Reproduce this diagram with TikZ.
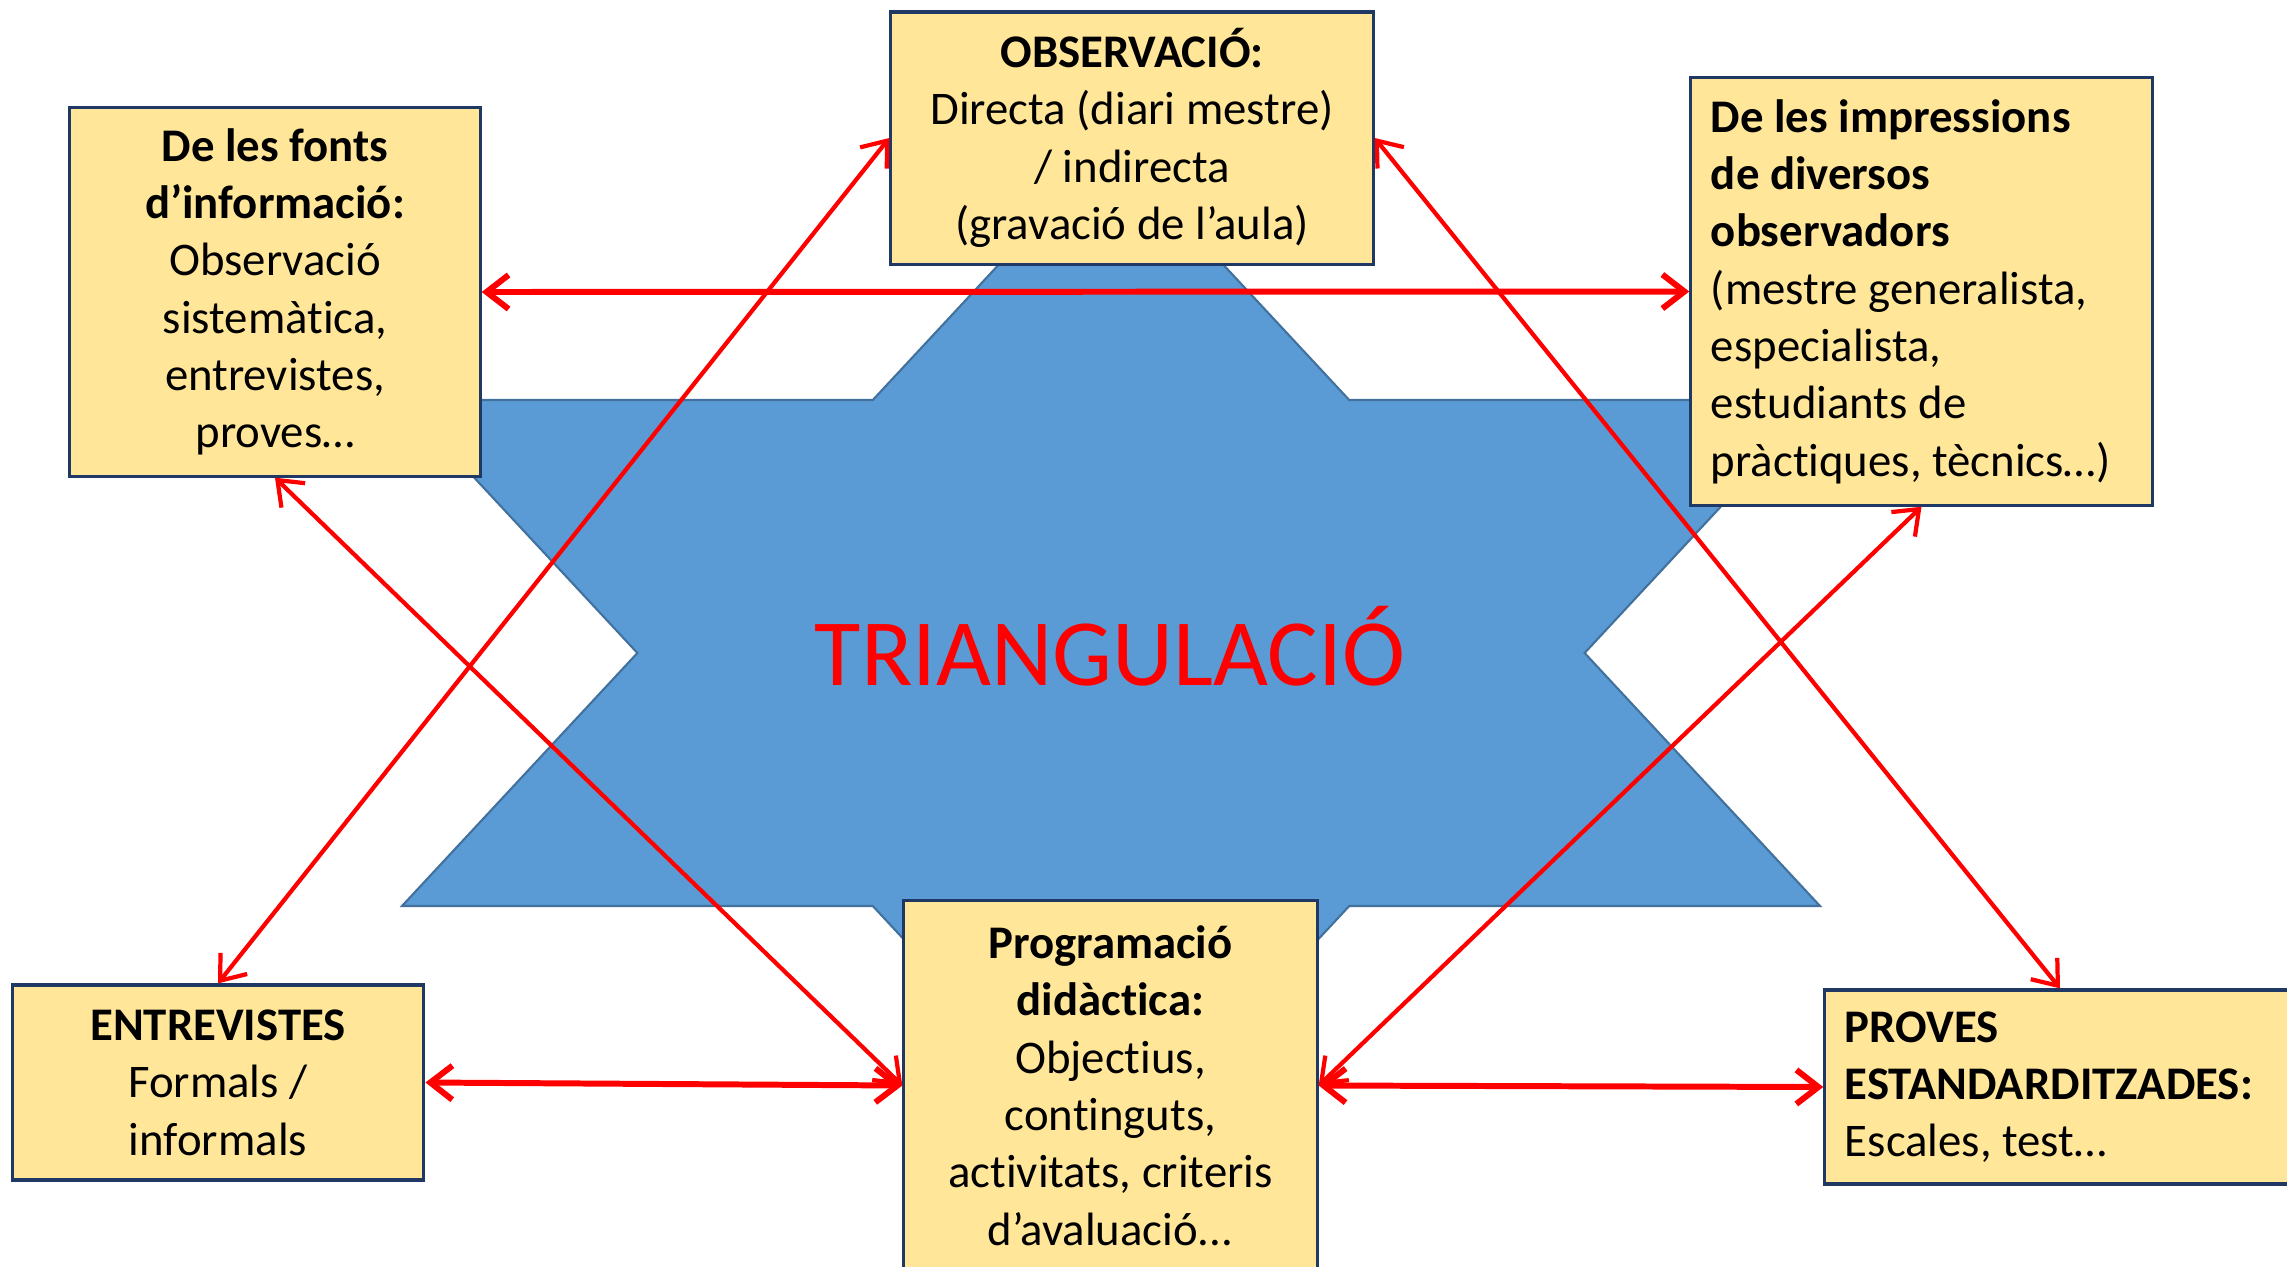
\documentclass[tikz,border=0pt]{standalone}
\usepackage{fontspec}
\setmainfont{Carlito}[Ligatures=CommonOff]
\usetikzlibrary{arrows.meta}
\definecolor{boxfill}{HTML}{FFE699}
\definecolor{boxline}{HTML}{1F3864}
\definecolor{starfill}{HTML}{5B9BD5}
\definecolor{starline}{HTML}{41719C}
\definecolor{linkred}{HTML}{FF0000}
\begin{document}
\begin{tikzpicture}[x=0.01cm,y=-0.01cm,
  box/.style={draw=boxline,fill=boxfill,line width=0.9pt,inner xsep=0.2cm,
    font=\fontsize{13.3}{16.3}\selectfont,align=center},
  link/.style={draw=linkred,line width=1.2pt,
    {Straight Barb[length=2.2mm,width=3.4mm]}-{Straight Barb[length=2.2mm,width=3.4mm]}}]
\clip (0,0) rectangle (2287,1266);
% star
\draw[fill=starfill,draw=starline,line width=0.6pt] (1111,144) -- (1349.2,400) -- (1820,400) -- (1584.6,653) -- (1820,906) -- (1349.2,906) -- (1111,1162) -- (872.8,906) -- (402,906) -- (637.4,653) -- (402,400) -- (872.8,400) -- cycle;
\node[text=linkred,font=\fontsize{27}{32}\selectfont,anchor=base] (tri) at (1110,685) {TRIANGULACIÓ};

\node[box,minimum width=4.82cm,minimum height=2.52cm] (obs) at (1132,138) {\textbf{OBSERVACIÓ:}\\Directa (diari mestre)\\/ indirecta\\(gravació de l’aula)};
\node[box,minimum width=4.10cm,minimum height=3.68cm] (fonts) at (275,292) {\textbf{De les fonts}\\\textbf{d’informació:}\\Observació\\sistemàtica,\\entrevistes,\\proves…};
\node[box,minimum width=4.61cm,minimum height=4.27cm,text width=4.21cm,align=flush left] (imp) at (1921.5,291.5) {\textbf{De les impressions}\\\textbf{de diversos}\\\textbf{observadors}\\(mestre generalista,\\especialista,\\estudiants de\\pràctiques, tècnics…)};
\node[box,minimum width=4.115cm,minimum height=1.95cm] (entr) at (218,1082.5) {\textbf{ENTREVISTES}\\Formals /\\informals};
\node[box,minimum width=4.13cm,minimum height=3.69cm] (prog) at (1110.5,1085.5) {\textbf{Programació}\\\textbf{didàctica:}\\Objectius,\\continguts,\\activitats, criteris\\d’avaluació...};
\node[box,minimum width=4.70cm,minimum height=1.94cm,text width=4.30cm,align=flush left] (prov) at (2060,1087) {\textbf{PROVES}\\\textbf{ESTANDARDITZADES:}\\Escales, test…};

% links
\draw[link,line width=1.7pt] (fonts.east) -- (imp.west);
\draw[link,line width=1.7pt] (entr.east) -- (prog.west);
\draw[link,line width=1.7pt] (prog.east) -- (prov.west);
\draw[link] (obs.west) -- (entr.north);
\draw[link] (fonts.south) -- (prog.west);
\draw[link] (obs.east) -- (prov.north);
\draw[link] (imp.south) -- (prog.east);
\end{tikzpicture}
\end{document}
